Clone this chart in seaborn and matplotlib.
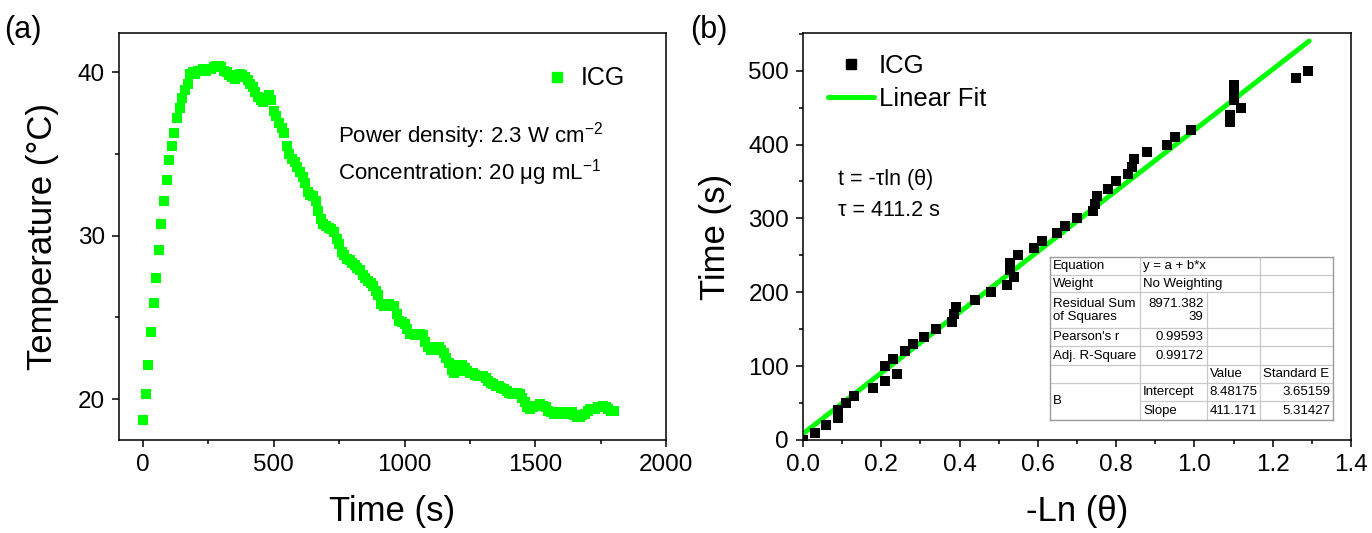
import numpy as np
import pandas as pd
import matplotlib
matplotlib.use("Agg")
import matplotlib.pyplot as plt
import seaborn as sns
from matplotlib.lines import Line2D
from matplotlib.ticker import MultipleLocator

# ---------------- data ----------------
# Panel (a): temperature vs time (every 10 s)
time_s = list(range(0, 1801, 10))
temperature_c = [
    18.7, 20.3, 22.1, 24.1, 25.9, 27.4, 29.1, 30.7, 32.1, 33.4,
    34.6, 35.5, 36.3, 37.2, 37.8, 38.4, 38.9, 39.3, 39.9, 40.0,
    39.9, 40.1, 40.1, 40.2, 40.1, 40.2, 40.2, 40.3, 40.4, 40.4,
    40.3, 40.1, 40.0, 39.8, 39.7, 39.6, 39.8, 39.9, 39.8, 39.7,
    39.5, 39.3, 39.1, 38.8, 38.5, 38.3, 38.2, 38.4, 38.6, 38.3,
    37.6, 37.3, 36.9, 36.6, 36.3, 35.5, 35.0, 34.7, 34.5, 34.2,
    33.9, 33.6, 33.2, 32.7, 32.5, 32.4, 32.1, 31.5, 31.0, 30.7,
    30.6, 30.5, 30.4, 30.2, 29.8, 29.5, 29.0, 28.8, 28.6, 28.5,
    28.3, 28.2, 28.0, 27.9, 27.6, 27.4, 27.2, 27.1, 26.9, 26.6,
    26.4, 25.8, 25.7, 25.7, 25.8, 25.7, 25.7, 25.2, 24.8, 24.7,
    24.6, 24.3, 24.0, 24.0, 23.9, 24.0, 24.0, 23.9, 23.5, 23.2,
    23.0, 23.1, 23.2, 23.2, 23.0, 22.8, 22.5, 22.2, 21.8, 21.6,
    21.7, 22.1, 22.1, 21.9, 21.7, 21.6, 21.6, 21.5, 21.4, 21.4,
    21.4, 21.3, 21.1, 21.0, 20.9, 20.8, 20.8, 20.7, 20.6, 20.5,
    20.4, 20.3, 20.3, 20.4, 20.3, 20.1, 19.8, 19.5, 19.4, 19.5,
    19.6, 19.6, 19.7, 19.6, 19.5, 19.3, 19.2, 19.1, 19.2, 19.2,
    19.1, 19.2, 19.2, 19.1, 19.2, 19.0, 18.9, 18.9, 19.0, 19.1,
    19.3, 19.4, 19.4, 19.4, 19.5, 19.5, 19.6, 19.5, 19.4, 19.3,
    19.3,
]

# Panel (b): cooling time vs -ln(theta)
neg_ln_theta = [
    0.00, 0.03, 0.06, 0.09, 0.09, 0.11, 0.13, 0.18, 0.21, 0.24,
    0.21, 0.23, 0.26, 0.28, 0.31, 0.34, 0.38, 0.385, 0.39, 0.44,
    0.48, 0.52, 0.54, 0.53, 0.53, 0.55, 0.59, 0.61, 0.65, 0.67,
    0.70, 0.74, 0.745, 0.75, 0.78, 0.80, 0.83, 0.84, 0.845, 0.88,
    0.93, 0.95, 0.99, 1.09, 1.09, 1.12, 1.10, 1.10, 1.10, 1.26,
    1.29,
]
cool_time_s = [
    0, 10, 20, 30, 40, 50, 60, 70, 80, 90,
    100, 110, 120, 130, 140, 150, 160, 170, 180, 190,
    200, 210, 220, 230, 240, 250, 260, 270, 280, 290,
    300, 310, 320, 330, 340, 350, 360, 370, 380, 390,
    400, 410, 420, 430, 440, 450, 460, 470, 480, 490,
    500,
]
fit_intercept = 8.48175
fit_slope = 411.171
fit_x_range = [0.0, 1.293]

table_rows = [
    ["Equation", "y = a + b*x", "", ""],
    ["Weight", "No Weighting", "", ""],
    ["Residual Sum\nof Squares", "8971.382\n39", "", ""],
    ["Pearson's r", "0.99593", "", ""],
    ["Adj. R-Square", "0.99172", "", ""],
    ["", "", "Value", "Standard E"],
    ["B", "Intercept", "8.48175", "3.65159"],
    ["", "Slope", "411.171", "5.31427"],
]

# ---------------- style ----------------
sns.set_theme(style="ticks")
plt.rcParams["font.family"] = ["Liberation Sans", "DejaVu Sans"]
plt.rcParams["mathtext.fontset"] = "custom"
plt.rcParams["mathtext.rm"] = "Liberation Sans"
plt.rcParams["mathtext.it"] = "Liberation Sans:italic"
plt.rcParams["mathtext.bf"] = "Liberation Sans:bold"
plt.rcParams["axes.linewidth"] = 1.1
plt.rcParams["axes.edgecolor"] = "black"
plt.rcParams["text.color"] = "black"
plt.rcParams["axes.labelcolor"] = "black"
plt.rcParams["xtick.color"] = "black"
plt.rcParams["ytick.color"] = "black"
plt.rcParams["xtick.labelcolor"] = "black"
plt.rcParams["ytick.labelcolor"] = "black"

GREEN = "#00ff00"
W, H = 1372, 533
fig = plt.figure(figsize=(W / 100, H / 100), dpi=100)


def px_axes(l, t, r, b):
    return fig.add_axes([l / W, 1 - b / H, (r - l) / W, (b - t) / H])


ax1 = px_axes(119, 33, 666, 440)
ax2 = px_axes(803, 33, 1351, 440)

TICK_FS = 17.5
LABEL_FS = 25

for ax in (ax1, ax2):
    for s in ax.spines.values():
        s.set_visible(True)
        s.set_linewidth(1.1)
        s.set_color("black")
    ax.tick_params(which="both", direction="out", top=False, right=False,
                   width=1.1, colors="black", labelcolor="black",
                   labelsize=TICK_FS)
    ax.tick_params(which="major", length=5, pad=5)
    ax.tick_params(which="minor", length=3)

# ---------------- panel (a) ----------------
df_a = pd.DataFrame({"t": time_s, "T": temperature_c})
sns.scatterplot(data=df_a, x="t", y="T", ax=ax1, marker="s", s=46,
                color=GREEN, linewidth=0, legend=False, zorder=3)
ax1.set_xlim(-92, 2000)
ax1.set_ylim(17.5, 42.4)
ax1.xaxis.set_major_locator(MultipleLocator(500))
ax1.xaxis.set_minor_locator(MultipleLocator(250))
ax1.yaxis.set_major_locator(MultipleLocator(10))
ax1.yaxis.set_minor_locator(MultipleLocator(5))
ax1.set_xlabel("Time (s)", fontsize=LABEL_FS, labelpad=14, color="black")
ax1.set_ylabel("Temperature (°C)", fontsize=LABEL_FS, labelpad=14, color="black")

h_a = [Line2D([], [], marker="s", color=GREEN, linestyle="none", markersize=6.6)]
ax1.legend(h_a, ["ICG"], loc="upper left", bbox_to_anchor=(0.778, 0.918),
           frameon=False, fontsize=18, handlelength=1.0, handletextpad=0.45,
           borderpad=0, borderaxespad=0, labelcolor="black")
ax1.text(0.400, 0.749, "Power density: 2.3 W cm$^{-2}$", transform=ax1.transAxes,
         fontsize=16, va="center", ha="left", color="black")
ax1.text(0.400, 0.658, "Concentration: 20 μg mL$^{-1}$", transform=ax1.transAxes,
         fontsize=16, va="center", ha="left", color="black")

# ---------------- panel (b) ----------------
df_b = pd.DataFrame({"x": neg_ln_theta, "y": cool_time_s})
fit_x = np.array(fit_x_range)
df_fit = pd.DataFrame({"x": fit_x, "y": fit_intercept + fit_slope * fit_x})
sns.lineplot(data=df_fit, x="x", y="y", ax=ax2, color=GREEN, linewidth=3.6,
             legend=False, zorder=2)
sns.scatterplot(data=df_b, x="x", y="y", ax=ax2, marker="s", s=46,
                color="black", linewidth=0, legend=False, zorder=3)
ax2.set_xlim(0, 1.4)
ax2.set_ylim(0, 551)
ax2.xaxis.set_major_locator(MultipleLocator(0.2))
ax2.xaxis.set_minor_locator(MultipleLocator(0.1))
ax2.yaxis.set_major_locator(MultipleLocator(100))
ax2.yaxis.set_minor_locator(MultipleLocator(50))
ax2.xaxis.set_major_formatter(matplotlib.ticker.FormatStrFormatter("%.1f"))
ax2.set_xlabel("-Ln (θ)", fontsize=LABEL_FS, labelpad=14, color="black")
ax2.set_ylabel("Time (s)", fontsize=LABEL_FS, labelpad=12, color="black")

h_b = [Line2D([], [], marker="s", color="black", linestyle="none", markersize=6.6),
       Line2D([], [], color=GREEN, linewidth=3.6)]
ax2.legend(h_b, ["ICG", "Linear Fit"], loc="upper left",
           bbox_to_anchor=(0.045, 0.948), frameon=False, fontsize=18.5,
           handlelength=1.8, handletextpad=0.2, labelspacing=0.35,
           borderpad=0, borderaxespad=0, labelcolor="black")
ax2.text(0.064, 0.639, "t = -τln (θ)", transform=ax2.transAxes,
         fontsize=15.5, va="center", ha="left", color="black")
ax2.text(0.064, 0.565, "τ = 411.2 s", transform=ax2.transAxes,
         fontsize=15.5, va="center", ha="left", color="black")

# ---------------- fit table (inset) ----------------
tl, tt, tr, tb = 1050, 257, 1333, 420
tax = px_axes(tl, tt, tr, tb)
tw, th = tr - tl, tb - tt
tax.set_xlim(0, tw)
tax.set_ylim(th, 0)
tax.set_facecolor("white")
tax.set_xticks([])
tax.set_yticks([])
for s in tax.spines.values():
    s.set_color("#9a9a9a")
    s.set_linewidth(1.0)
cols = [0, 90, 156.7, 210, tw]
rows_y = [0, 17.7, 35.4, 71, 89.4, 107.7, 126, 144.4, th]
LC = "#c9c9c9"
for i, y in enumerate(rows_y[1:-1], start=1):
    x0 = cols[1] if i == 7 else 0
    tax.plot([x0, tw], [y, y], color=LC, lw=0.9)
for i in range(8):
    y0, y1 = rows_y[i], rows_y[i + 1]
    for j in (1, 2, 3):
        if j == 2 and i < 2:
            continue
        tax.plot([cols[j], cols[j]], [y0, y1], color=LC, lw=0.9)

TFS = 9.5
pad = 3
right_cols = {(2, 1), (3, 1), (4, 1), (6, 2), (7, 2), (6, 3), (7, 3)}
for i, row in enumerate(table_rows):
    ymid = (rows_y[i] + rows_y[i + 1]) / 2
    for j, txt in enumerate(row):
        if not txt:
            continue
        if i == 6 and j == 0:
            ymid_b = (rows_y[6] + rows_y[8]) / 2
            tax.text(cols[0] + pad, ymid_b, txt, fontsize=TFS, va="center",
                     ha="left", color="black")
            continue
        if (i, j) in right_cols:
            tax.text(cols[j + 1] - pad, ymid, txt, fontsize=TFS, va="center",
                     ha="right", linespacing=1.15, multialignment="right",
                     color="black")
        else:
            tax.text(cols[j] + pad, ymid, txt, fontsize=TFS, va="center",
                     ha="left", linespacing=1.15, color="black")

# ---------------- panel letters ----------------
fig.text(4 / W, 1 - 30 / H, "(a)", fontsize=22, va="center", ha="left", color="black")
fig.text(690 / W, 1 - 30 / H, "(b)", fontsize=22, va="center", ha="left", color="black")

fig.savefig("out.png", dpi=100)
